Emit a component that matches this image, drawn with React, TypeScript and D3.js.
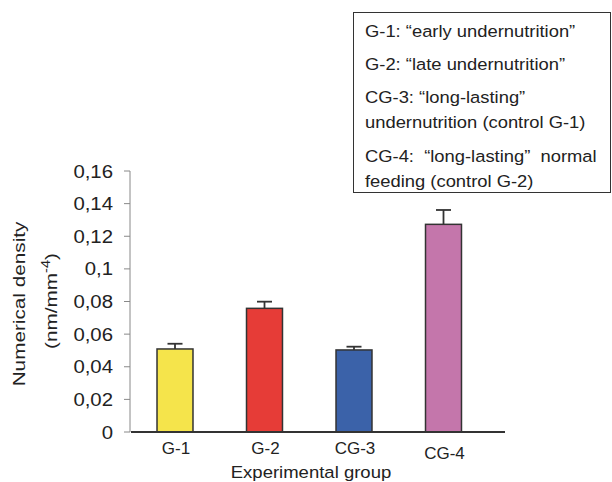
import React from "react";
import * as d3 from "d3";

const categories = ["G-1", "G-2", "CG-3", "CG-4"];
const values = [0.0509, 0.0758, 0.0503, 0.1273];
const errors = [0.0032, 0.0041, 0.002, 0.0088];
const colors = ["#f5e44b", "#e63c37", "#3b62a9", "#c476ab"];
const yTicks = [0, 0.02, 0.04, 0.06, 0.08, 0.1, 0.12, 0.14, 0.16];
const legendLines = [
  "G-1: \u201cearly undernutrition\u201d",
  "G-2: \u201clate undernutrition\u201d",
  "CG-3: \u201clong-lasting\u201d",
  "undernutrition (control G-1)",
  "CG-4:  \u201clong-lasting\u201d  normal",
  "feeding (control G-2)",
];
const legendBaselines = [37, 70, 103, 128, 162, 187];

const W = 612;
const H = 482;
const font = "'Liberation Sans', Arial, sans-serif";

type TProps = {
  x: number;
  y: number;
  size: number;
  sx?: number;
  rotate?: number;
  anchor?: "start" | "middle" | "end";
  children: React.ReactNode;
};

function T({ x, y, size, sx = 1, rotate = 0, anchor = "start", children }: TProps) {
  return (
    <text
      transform={`translate(${x},${y}) rotate(${rotate}) scale(${sx},1)`}
      fontSize={size}
      textAnchor={anchor}
      fill="#222"
      style={{ whiteSpace: "pre" }}
    >
      {children}
    </text>
  );
}

export default function App() {
  const y = d3.scaleLinear().domain([0, 0.16]).range([432, 171]);
  const x = d3
    .scaleBand<string>()
    .domain(categories)
    .range([130.25, 488.25])
    .paddingInner(0.598)
    .paddingOuter(0.299);
  const fmt = (v: number) => (v === 0 ? "0" : String(+v.toFixed(2)).replace(".", ","));
  const capW = 15;

  return (
    <svg
      width={W}
      height={H}
      style={{ position: "absolute", left: 0, top: 0, background: "#fff" }}
      fontFamily={font}
    >
      {/* y axis */}
      <line x1={130} x2={130} y1={y(0.16)} y2={y(0)} stroke="#888" strokeWidth={1} />
      {yTicks.map((t) => (
        <g key={t}>
          <line x1={124} x2={130} y1={y(t)} y2={y(t)} stroke="#888" strokeWidth={1} />
          <T x={113} y={y(t) + 6.6} size={18.5} sx={1.1} anchor="end">
            {fmt(t)}
          </T>
        </g>
      ))}

      {/* bars */}
      {categories.map((c, i) => {
        const x0 = x(c)!;
        const cx = x0 + x.bandwidth() / 2;
        return (
          <g key={c}>
            <line x1={cx} x2={cx} y1={y(values[i])} y2={y(values[i] + errors[i])} stroke="#333" strokeWidth={1.8} />
            <line
              x1={cx - capW / 2}
              x2={cx + capW / 2}
              y1={y(values[i] + errors[i])}
              y2={y(values[i] + errors[i])}
              stroke="#333"
              strokeWidth={1.8}
            />
            <rect
              x={x0}
              y={y(values[i])}
              width={x.bandwidth()}
              height={y(0) - y(values[i])}
              fill={colors[i]}
              stroke="#333"
              strokeWidth={1.5}
            />
            <T x={cx + 1} y={i === 3 ? 459 : 454} size={17} anchor="middle">
              {c}
            </T>
          </g>
        );
      })}

      {/* x baseline */}
      <line x1={131} x2={505} y1={y(0)} y2={y(0)} stroke="#333" strokeWidth={1.8} />

      <T x={311} y={478} size={17} sx={1.09} anchor="middle">
        Experimental group
      </T>

      {/* y title */}
      <T x={25} y={304} size={17} sx={1.22} rotate={-90} anchor="middle">
        Numerical density
      </T>
      <T x={57} y={301} size={17} sx={1.22} rotate={-90} anchor="middle">
        (nm/mm
        <tspan dy={-7} fontSize={12}>-4</tspan>
        <tspan dy={7}>)</tspan>
      </T>

      {/* legend */}
      <rect x={353.5} y={12.5} width={257} height={180} fill="#fff" stroke="#333" strokeWidth={1} />
      {legendLines.map((l, i) => (
        <T key={i} x={365} y={legendBaselines[i]} size={16.7} sx={1.1}>
          {l}
        </T>
      ))}
    </svg>
  );
}
